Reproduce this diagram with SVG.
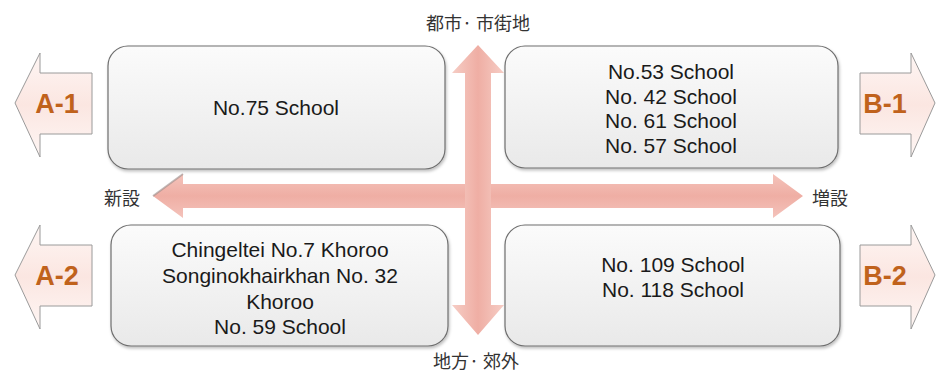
<svg xmlns="http://www.w3.org/2000/svg" width="937" height="376" viewBox="0 0 937 376">
<defs>
<linearGradient id="boxg" x1="0" y1="0" x2="0" y2="1">
<stop offset="0" stop-color="#fbfbfb"/>
<stop offset="1" stop-color="#e9e9e9"/>
</linearGradient>
<linearGradient id="sideg" x1="0" y1="0" x2="0" y2="1">
<stop offset="0" stop-color="#fef6f4"/>
<stop offset="0.5" stop-color="#fbe6e1"/>
<stop offset="1" stop-color="#fef6f4"/>
</linearGradient>
<linearGradient id="hg" x1="0" y1="0" x2="0" y2="1">
<stop offset="0" stop-color="#f4c3bb"/>
<stop offset="0.5" stop-color="#efaea4"/>
<stop offset="1" stop-color="#f4c3bb"/>
</linearGradient>
<linearGradient id="vg" x1="0" y1="0" x2="1" y2="0">
<stop offset="0" stop-color="#f6cdc5"/>
<stop offset="0.5" stop-color="#efaea4"/>
<stop offset="1" stop-color="#f6cdc5"/>
</linearGradient>
<filter id="sh" x="-5%" y="-5%" width="110%" height="115%">
<feDropShadow dx="1" dy="2" stdDeviation="1.5" flood-color="#000" flood-opacity="0.25"/>
</filter>
</defs>
<style>
.box{fill:url(#boxg);stroke:#6e6e6e;stroke-width:1.2;filter:url(#sh)}
.bt{font-family:"Liberation Sans",Arial,sans-serif;font-size:21px;fill:#1a1a1a;text-anchor:middle}
.side{fill:url(#sideg);stroke:#9a9a9a;stroke-width:1}
.st{font-family:"Liberation Sans",Arial,sans-serif;font-size:27px;font-weight:bold;fill:#c0621c;text-anchor:middle}
.lab{font-family:"Noto Sans CJK JP","Noto Sans CJK SC",sans-serif;font-size:18px;fill:#333}
</style>
<g id="axes">
<polygon fill="url(#hg)" points="153,196 183,174 183,184 773,184 773,174 803,196 773,218 773,208 183,208 183,218"/>
<polygon fill="url(#vg)" points="478,45 504,73 491,73 491,305 504,305 478,335 452,305 465,305 465,73 452,73"/>
<path d="M183,174 L153,196" stroke="#9a8a88" stroke-width="2" fill="none" opacity="0.6"/>
</g>
<g id="labels">
<text class="lab" x="478" y="30" text-anchor="middle">都市· 市街地</text>
<text class="lab" x="476" y="368" text-anchor="middle">地方· 郊外</text>
<text class="lab" x="104" y="205">新設</text>
<text class="lab" x="812" y="205">増設</text>
</g>
<g id="A-1">
<polygon class="side" points="15,103 40,53 40,73 92,73 92,134 40,134 40,157"/>
<text class="st" x="57" y="113">A-1</text>
</g>
<g id="A-2">
<polygon class="side" points="15,275 40,225 40,245 92,245 92,306 40,306 40,329"/>
<text class="st" x="57" y="285">A-2</text>
</g>
<g id="B-1">
<polygon class="side" points="935,103 911,53 911,73 860,73 860,134 911,134 911,157"/>
<text class="st" x="885" y="113">B-1</text>
</g>
<g id="B-2">
<polygon class="side" points="935,275 911,225 911,245 860,245 860,306 911,306 911,329"/>
<text class="st" x="885" y="285">B-2</text>
</g>
<g id="box-tl">
<rect class="box" x="108" y="46" width="337" height="123" rx="20"/>
<text class="bt" x="276" y="115">No.75 School</text>
</g>
<g id="box-tr">
<rect class="box" x="505" y="46" width="333" height="122" rx="20"/>
<text class="bt" x="671" y="79">No.53 School</text>
<text class="bt" x="671" y="104">No. 42 School</text>
<text class="bt" x="671" y="128">No. 61 School</text>
<text class="bt" x="671" y="153">No. 57 School</text>
</g>
<g id="box-bl">
<rect class="box" x="111" y="225" width="337" height="121" rx="20"/>
<text class="bt" x="280" y="257">Chingeltei No.7 Khoroo</text>
<text class="bt" x="280" y="283">Songinokhairkhan No. 32</text>
<text class="bt" x="280" y="309">Khoroo</text>
<text class="bt" x="280" y="334">No. 59 School</text>
</g>
<g id="box-br">
<rect class="box" x="505" y="225" width="335" height="121" rx="20"/>
<text class="bt" x="673" y="272">No. 109 School</text>
<text class="bt" x="673" y="297">No. 118 School</text>
</g>
</svg>
